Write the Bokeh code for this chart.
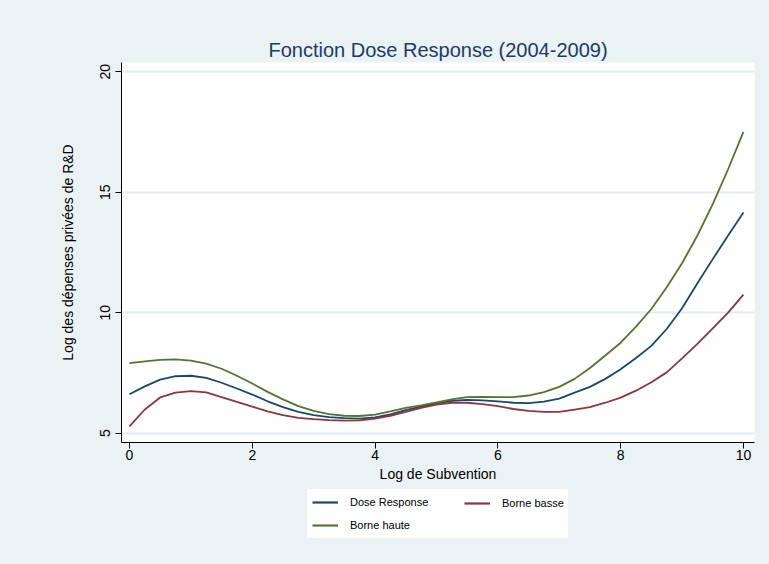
from bokeh.plotting import figure
from bokeh.models import Range1d, FixedTicker, Legend, LegendItem
from bokeh.layouts import column
from bokeh.embed import file_html
from bokeh.resources import INLINE

# ---- data ----
log_subvention = [0.0, 0.25, 0.5, 0.75, 1.0, 1.25, 1.5, 1.75, 2.0, 2.25, 2.5,
                  2.75, 3.0, 3.25, 3.5, 3.75, 4.0, 4.25, 4.5, 4.75, 5.0,
                  5.25, 5.5, 5.75, 6.0, 6.25, 6.5, 6.75, 7.0, 7.25, 7.5,
                  7.75, 8.0, 8.25, 8.5, 8.75, 9.0, 9.25, 9.5, 9.75, 10.0]
dose_response = [6.61, 6.94, 7.22, 7.36, 7.38, 7.29, 7.09, 6.85, 6.60, 6.32, 6.08,
                 5.88, 5.75, 5.66, 5.62, 5.60, 5.65, 5.78, 5.95, 6.10, 6.23,
                 6.34, 6.38, 6.36, 6.32, 6.26, 6.24, 6.31, 6.43, 6.68, 6.92,
                 7.25, 7.65, 8.12, 8.62, 9.32, 10.18, 11.22, 12.22, 13.20, 14.15]
borne_basse = [5.28, 5.98, 6.48, 6.68, 6.74, 6.69, 6.49, 6.30, 6.10, 5.90, 5.75,
               5.63, 5.58, 5.54, 5.52, 5.53, 5.60, 5.72, 5.88, 6.05, 6.18,
               6.26, 6.26, 6.20, 6.12, 6.00, 5.92, 5.88, 5.88, 5.97, 6.08,
               6.26, 6.47, 6.76, 7.11, 7.52, 8.10, 8.70, 9.35, 10.00, 10.75]
borne_haute = [7.90, 7.98, 8.04, 8.06, 8.01, 7.88, 7.67, 7.38, 7.06, 6.71, 6.40,
               6.12, 5.92, 5.79, 5.72, 5.71, 5.77, 5.90, 6.05, 6.15, 6.27,
               6.40, 6.49, 6.50, 6.49, 6.49, 6.56, 6.70, 6.92, 7.25, 7.70,
               8.22, 8.75, 9.42, 10.15, 11.05, 12.05, 13.20, 14.50, 15.95, 17.50]

x_ticks = [0, 2, 4, 6, 8, 10]
y_ticks = [5, 10, 15, 20]

title_text = "Fonction Dose Response (2004-2009)"
x_label = "Log de Subvention"
y_label = "Log des dépenses privées de R&D"
series_labels = ["Dose Response", "Borne basse", "Borne haute"]

BG = "#EAF2F3"
FONT = "Liberation Sans"
C_BLUE = "#1A476F"
C_RED = "#90353B"
C_GREEN = "#55752F"

# ---------------- main chart ----------------
p = figure(width=769, height=486, frame_width=633, frame_height=380,
           output_backend="svg", toolbar_location=None,
           x_range=Range1d(-0.13, 10.18), y_range=Range1d(4.61, 20.38),
           min_border_left=121, min_border_right=15,
           min_border_top=62, min_border_bottom=44)

p.border_fill_color = BG
p.background_fill_color = "white"
p.outline_line_color = None

p.title.text = title_text
p.title.align = "center"
p.title.text_font = FONT
p.title.text_font_size = "20px"
p.title.text_font_style = "normal"
p.title.text_color = "#1F3A68"
p.title.standoff = 4

for ax in (p.xaxis[0], p.yaxis[0]):
    ax.axis_line_color = "black"
    ax.axis_line_width = 1
    ax.major_tick_line_color = "black"
    ax.major_tick_out = 6
    ax.major_tick_in = 0
    ax.minor_tick_line_color = None
    ax.major_label_text_font = FONT
    ax.major_label_text_font_size = "14px"
    ax.major_label_text_color = "black"
    ax.axis_label_text_font = FONT
    ax.axis_label_text_font_size = "14px"
    ax.axis_label_text_font_style = "normal"
    ax.axis_label_text_color = "black"

p.xaxis.ticker = FixedTicker(ticks=x_ticks)
p.yaxis.ticker = FixedTicker(ticks=y_ticks)
p.xaxis.axis_label = x_label
p.yaxis.axis_label = y_label
p.yaxis.major_label_orientation = "vertical"
p.xaxis.major_label_standoff = 1
p.yaxis.major_label_standoff = 5
p.xaxis.axis_label_standoff = 3
p.yaxis.axis_label_standoff = 22

p.xgrid.grid_line_color = None
p.ygrid.ticker = FixedTicker(ticks=y_ticks)
p.ygrid.grid_line_color = "#E3ECF0"
p.ygrid.grid_line_width = 2

p.line(log_subvention, dose_response, line_color=C_BLUE, line_width=1.8)
p.line(log_subvention, borne_basse, line_color=C_RED, line_width=1.8)
p.line(log_subvention, borne_haute, line_color=C_GREEN, line_width=1.8)

# ---------------- legend strip (same frame geometry as the chart) ----------------
p2 = figure(width=769, height=78, frame_width=633, frame_height=78,
            output_backend="svg", toolbar_location=None,
            x_range=Range1d(20, 21), y_range=Range1d(20, 21),
            x_axis_location=None, y_axis_location=None,
            min_border_left=121, min_border_right=15,
            min_border_top=0, min_border_bottom=0)
p2.border_fill_color = BG
p2.background_fill_alpha = 0
p2.outline_line_color = None
p2.xgrid.visible = False
p2.ygrid.visible = False

# same series; their data lie outside this strip's ranges, so only legend keys show
k_dose = p2.line(log_subvention, dose_response, line_color=C_BLUE, line_width=2.2)
k_basse = p2.line(log_subvention, borne_basse, line_color=C_RED, line_width=2.2)
k_haute = p2.line(log_subvention, borne_haute, line_color=C_GREEN, line_width=2.2)

common = dict(label_text_font=FONT, label_text_font_size="11px",
              label_text_color="black", glyph_width=26, glyph_height=16,
              label_height=16, label_standoff=12, spacing=7, padding=5,
              border_line_alpha=0, margin=0)

leg_a = Legend(items=[LegendItem(label=series_labels[0], renderers=[k_dose]),
                      LegendItem(label=series_labels[2], renderers=[k_haute])],
               location=(186, 26), background_fill_color="white",
               background_fill_alpha=1, label_width=213, **common)
leg_b = Legend(items=[LegendItem(label=series_labels[1], renderers=[k_basse])],
               location=(338, 48), background_fill_alpha=0,
               label_width=40, **common)
p2.add_layout(leg_a, "center")
p2.add_layout(leg_b, "center")

layout = column(p, p2, spacing=0, styles={"background-color": BG})
open("out.html", "w").write(file_html(layout, INLINE))
